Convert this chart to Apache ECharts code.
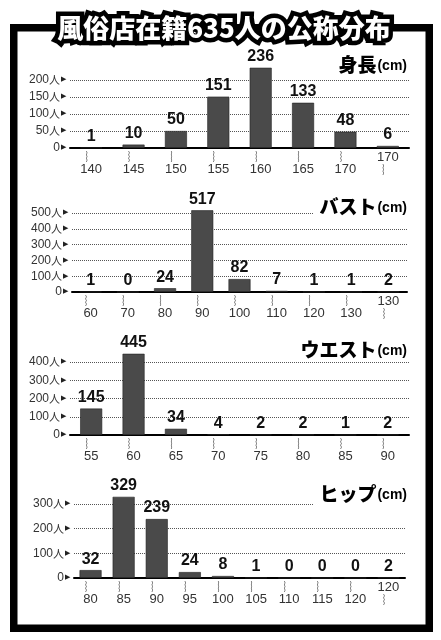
<!DOCTYPE html>
<html>
<head>
<meta charset="utf-8">
<script src="https://cdn.jsdelivr.net/npm/echarts@6/dist/echarts.min.js"></script>
<style>
  html, body { margin: 0; padding: 0; background: #fff; }
  #main { width: 441px; height: 640px; }
</style>
</head>
<body>
<div id="main"></div>
<script>
// 身長
var heightCats = ['140', '145', '150', '155', '160', '165', '170', '170'];
var heightVals = [1, 10, 50, 151, 236, 133, 48, 6];
// バスト
var bustCats = ['60', '70', '80', '90', '100', '110', '120', '130', '130'];
var bustVals = [1, 0, 24, 517, 82, 7, 1, 1, 2];
// ウエスト
var waistCats = ['55', '60', '65', '70', '75', '80', '85', '90'];
var waistVals = [145, 445, 34, 4, 2, 2, 1, 2];
// ヒップ
var hipCats = ['80', '85', '90', '95', '100', '105', '110', '115', '120', '120'];
var hipVals = [32, 329, 239, 24, 8, 1, 0, 0, 0, 2];

var chartTitles = ['身長', 'バスト', 'ウエスト', 'ヒップ'];

var narrow = '"Liberation Sans", Arial, sans-serif';
var cjk = '"Noto Sans CJK JP", sans-serif';

var chartDom = document.getElementById('main');
var myChart = echarts.init(chartDom);
var option;

// 各グラフの位置
var grids = [
  { left: 70, right: 32, top: 80, height: 68 },
  { left: 72, right: 34, top: 213, height: 79 },
  { left: 70, right: 32, top: 362, height: 73 },
  { left: 74, right: 36, top: 504, height: 74 }
];
var intervals = [50, 100, 100, 100];
var maxes = [200, 500, 400, 300];
var titleTops = [51, 193, 336, 480];
var allCats = [heightCats, bustCats, waistCats, hipCats];
var allVals = [heightVals, bustVals, waistVals, hipVals];

var xAxes = [], yAxes = [], series = [], titles = [];
for (var i = 0; i < 4; i++) {
  (function (i) {
    var cats = allCats[i];
    // 最後の区分だけ「〜以上」
    var openLast = (i !== 2);
    xAxes.push({
      type: 'category',
      gridIndex: i,
      data: cats,
      axisLine: { lineStyle: { color: '#000', width: 2 } },
      axisTick: { show: false },
      axisLabel: {
        interval: 0,
        margin: 3,
        color: '#333',
        formatter: function (v, idx) {
          if (openLast && idx === cats.length - 1) return '{n|' + v + '}\n{w|︴}';
          return '{w|︴}\n{n|' + v + '}';
        },
        rich: {
          w: { fontSize: 11, lineHeight: 12, color: '#444', fontFamily: cjk },
          n: { fontSize: 13, lineHeight: 13, color: '#333', fontFamily: narrow }
        }
      }
    });
    yAxes.push({
      type: 'value',
      gridIndex: i,
      min: 0,
      max: maxes[i],
      interval: intervals[i],
      axisLine: { show: false },
      axisTick: { show: false },
      splitLine: { lineStyle: { type: 'dotted', color: '#555', width: 1 } },
      axisLabel: {
        margin: 4,
        formatter: function (v) {
          return (v === 0 ? '{v|0}' : '{v|' + v + '}{p|人}') + '{t|▶}';
        },
        rich: {
          v: { fontFamily: narrow, fontSize: 12, color: '#333' },
          p: { fontFamily: cjk, fontSize: 11, color: '#333' },
          t: { fontSize: 7, color: '#222', padding: [0, 0, 1, 1] }
        }
      }
    });
    series.push({
      type: 'bar',
      xAxisIndex: i,
      yAxisIndex: i,
      data: allVals[i],
      barWidth: 22,
      clip: false,
      itemStyle: { color: '#4a4a4a', borderColor: '#222', borderWidth: 0.6 },
      label: {
        show: true,
        position: 'top',
        distance: 3,
        color: '#111',
        fontFamily: narrow,
        fontWeight: 'bold',
        fontSize: 16
      }
    });
    titles.push({
      text: '{a|' + chartTitles[i] + '}{b|(cm)}',
      right: 30,
      top: titleTops[i],
      padding: [2, 4, 2, 6],
      backgroundColor: '#fff',
      textStyle: {
        rich: {
          a: { fontFamily: cjk, fontWeight: 900, fontSize: 19, lineHeight: 24, color: '#000' },
          b: { fontFamily: '"Liberation Sans", sans-serif', fontWeight: 'bold', fontSize: 14, lineHeight: 24, color: '#000', padding: [2, 0, 0, 1] }
        }
      }
    });
  })(i);
}

option = {
  backgroundColor: '#fff',
  animation: false,
  title: titles,
  grid: grids,
  xAxis: xAxes,
  yAxis: yAxes,
  series: series,
  graphic: [
    {
      type: 'rect',
      z: 10,
      shape: { x: 13.75, y: 27.75, width: 415.5, height: 600.5 },
      style: { fill: 'none', stroke: '#000', lineWidth: 7.5 }
    },
    {
      type: 'text',
      z: 11,
      x: 224,
      y: 28,
      style: {
        text: '風俗店在籍635人の公称分布',
        font: '900 26px "Noto Sans CJK JP"',
        fill: '#000',
        stroke: '#000',
        lineWidth: 9,
        lineJoin: 'round',
        textAlign: 'center',
        textVerticalAlign: 'middle'
      }
    },
    {
      type: 'text',
      z: 12,
      x: 224,
      y: 28,
      style: {
        text: '風俗店在籍635人の公称分布',
        font: '900 26px "Noto Sans CJK JP"',
        fill: '#fff',
        textAlign: 'center',
        textVerticalAlign: 'middle'
      }
    }
  ]
};

option && myChart.setOption(option);
</script>
</body>
</html>
